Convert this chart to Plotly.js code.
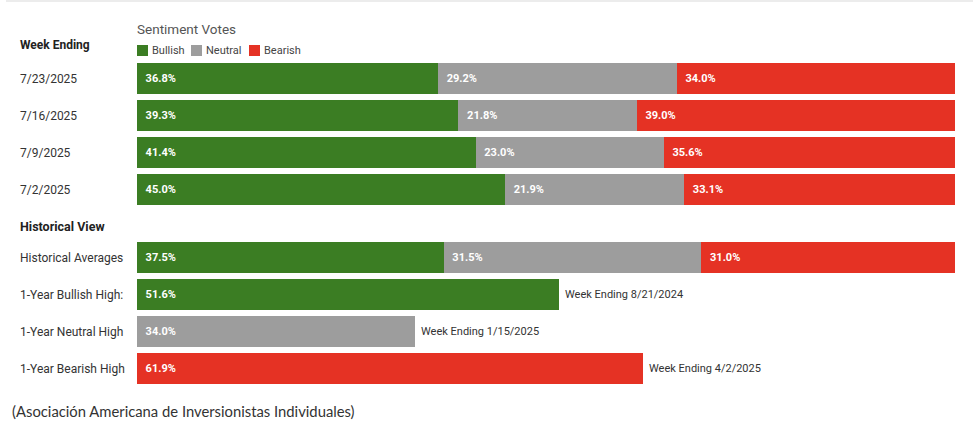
<!DOCTYPE html>
<html>
<head>
<meta charset="utf-8">
<script src="https://cdn.plot.ly/plotly-3.0.1.min.js"></script>
<style>
  html, body { margin: 0; padding: 0; background: #ffffff; }
  #chart { width: 973px; height: 424px; }
</style>
</head>
<body>
<div id="chart"></div>
<script>
// Weekly AAII sentiment readings
const weeks = ['7/23/2025', '7/16/2025', '7/9/2025', '7/2/2025'];
const weeklyBullish = [36.8, 39.3, 41.4, 45.0];
const weeklyNeutral = [29.2, 21.8, 23.0, 21.9];
const weeklyBearish = [34.0, 39.0, 35.6, 33.1];

// Historical view rows
const histRows = ['Historical Averages', '1-Year Bullish High:', '1-Year Neutral High', '1-Year Bearish High'];
const histAverages = [37.5, 31.5, 31.0];   // bullish, neutral, bearish
const bullishHigh = 51.6;
const neutralHigh = 34.0;
const bearishHigh = 61.9;
const highDates = ['Week Ending 8/21/2024', 'Week Ending 1/15/2025', 'Week Ending 4/2/2025'];

const seriesNames = ['Bullish', 'Neutral', 'Bearish'];
const colors = ['#3b7d23', '#9d9d9d', '#e53224'];

// ---- layout geometry (pixels) ----
const W = 973, H = 424;
const plotLeft = 137, plotRight = 955;
const plotW = plotRight - plotLeft;
const pxX = px => (px - plotLeft) / plotW;   // pixel -> paper x
const pxY = px => 1 - px / H;                  // pixel -> paper y
const textPad = 2;                             // annotation box padding to undo

const labelFont = { family: 'Roboto, sans-serif', size: 12, color: '#333333' };
const barTextFont = { family: 'Roboto, sans-serif', size: 11, color: '#ffffff', weight: 'bold' };
const pad = '\u2002';

function barTrace(name, color, xs, ys, axis) {
  return {
    type: 'bar',
    orientation: 'h',
    name: name,
    x: xs,
    y: ys,
    xaxis: axis === 1 ? 'x' : 'x2',
    yaxis: axis === 1 ? 'y' : 'y2',
    marker: { color: color, line: { width: 0 } },
    text: xs.map(v => pad + v.toFixed(1) + '%'),
    textposition: 'inside',
    insidetextanchor: 'start',
    textangle: 0,
    textfont: barTextFont,
    constraintext: 'none',
    hoverinfo: 'skip',
    showlegend: false
  };
}

const traces = [
  barTrace(seriesNames[0], colors[0], weeklyBullish, weeks, 1),
  barTrace(seriesNames[1], colors[1], weeklyNeutral, weeks, 1),
  barTrace(seriesNames[2], colors[2], weeklyBearish, weeks, 1),
  barTrace(seriesNames[0], colors[0], [histAverages[0], bullishHigh], [histRows[0], histRows[1]], 2),
  barTrace(seriesNames[1], colors[1], [histAverages[1], neutralHigh], [histRows[0], histRows[2]], 2),
  barTrace(seriesNames[2], colors[2], [histAverages[2], bearishHigh], [histRows[0], histRows[3]], 2)
];

const annotations = [];
const shapes = [];

// Row labels on the left
weeks.forEach(w => annotations.push({
  xref: 'paper', yref: 'y', x: pxX(20 - textPad), y: w, xanchor: 'left', yanchor: 'middle',
  text: w, showarrow: false, font: labelFont
}));
histRows.forEach(r => annotations.push({
  xref: 'paper', yref: 'y2', x: pxX(20 - textPad), y: r, xanchor: 'left', yanchor: 'middle',
  text: r, showarrow: false, font: labelFont
}));

// Dates of the one-year highs, just past each bar
[[bullishHigh, histRows[1]], [neutralHigh, histRows[2]], [bearishHigh, histRows[3]]].forEach((p, i) => {
  annotations.push({
    xref: 'x2', yref: 'y2', x: p[0], y: p[1], xanchor: 'left', yanchor: 'middle', xshift: 4,
    text: highDates[i], showarrow: false,
    font: { family: 'Roboto, sans-serif', size: 11, color: '#333333' }
  });
});

// Section headings
annotations.push({
  xref: 'paper', yref: 'paper', x: pxX(20 - textPad), y: pxY(45), xanchor: 'left', yanchor: 'middle',
  text: '<b>Week Ending</b>', showarrow: false,
  font: { family: 'Roboto, sans-serif', size: 12, color: '#222222' }
});
annotations.push({
  xref: 'paper', yref: 'paper', x: pxX(20 - textPad), y: pxY(227), xanchor: 'left', yanchor: 'middle',
  text: '<b>Historical View</b>', showarrow: false,
  font: { family: 'Roboto, sans-serif', size: 12.5, color: '#222222' }
});
annotations.push({
  xref: 'paper', yref: 'paper', x: pxX(137 - textPad), y: pxY(29), xanchor: 'left', yanchor: 'middle',
  text: 'Sentiment Votes', showarrow: false,
  font: { family: 'Roboto, sans-serif', size: 13.5, color: '#555555' }
});

// Legend: colour swatch + name
const legendX = [137, 191, 249];
seriesNames.forEach((n, i) => {
  shapes.push({
    type: 'rect', xref: 'paper', yref: 'paper',
    x0: pxX(legendX[i]), x1: pxX(legendX[i] + 11), y0: pxY(56), y1: pxY(45),
    fillcolor: colors[i], line: { width: 0 }
  });
  annotations.push({
    xref: 'paper', yref: 'paper', x: pxX(legendX[i] + 13), y: pxY(50), xanchor: 'left', yanchor: 'middle',
    text: n, showarrow: false,
    font: { family: 'Roboto, sans-serif', size: 11, color: '#444444' }
  });
});

// Source line
annotations.push({
  xref: 'paper', yref: 'paper', x: pxX(12 - textPad), y: pxY(411), xanchor: 'left', yanchor: 'middle',
  text: '(Asociación Americana de Inversionistas Individuales)', showarrow: false,
  font: { family: 'Lato, sans-serif', size: 14.8, color: '#333333' }
});

// Thin rule across the top
shapes.push({
  type: 'line', xref: 'paper', yref: 'paper',
  x0: pxX(6), x1: pxX(973), y0: pxY(1), y1: pxY(1),
  line: { color: '#ececec', width: 2 }
});

const hiddenX = { range: [0, 100], visible: false, fixedrange: true };
const layout = {
  width: W, height: H,
  margin: { l: plotLeft, r: W - plotRight, t: 0, b: 0 },
  paper_bgcolor: '#ffffff', plot_bgcolor: '#ffffff',
  barmode: 'stack',
  bargap: 0.17,
  showlegend: false,
  xaxis: Object.assign({ anchor: 'y' }, hiddenX),
  xaxis2: Object.assign({ anchor: 'y2' }, hiddenX),
  yaxis: {
    domain: [pxY(208.3), pxY(60.3)], type: 'category',
    categoryorder: 'array', categoryarray: weeks,
    autorange: 'reversed', showticklabels: false, showgrid: false, zeroline: false, showline: false, ticks: ''
  },
  yaxis2: {
    domain: [pxY(387), pxY(239)], type: 'category',
    categoryorder: 'array', categoryarray: histRows,
    autorange: 'reversed', showticklabels: false, showgrid: false, zeroline: false, showline: false, ticks: ''
  },
  annotations: annotations,
  shapes: shapes,
  font: { family: 'Roboto, sans-serif' }
};

Plotly.newPlot('chart', traces, layout, { displayModeBar: false, staticPlot: true });
</script>
</body>
</html>
